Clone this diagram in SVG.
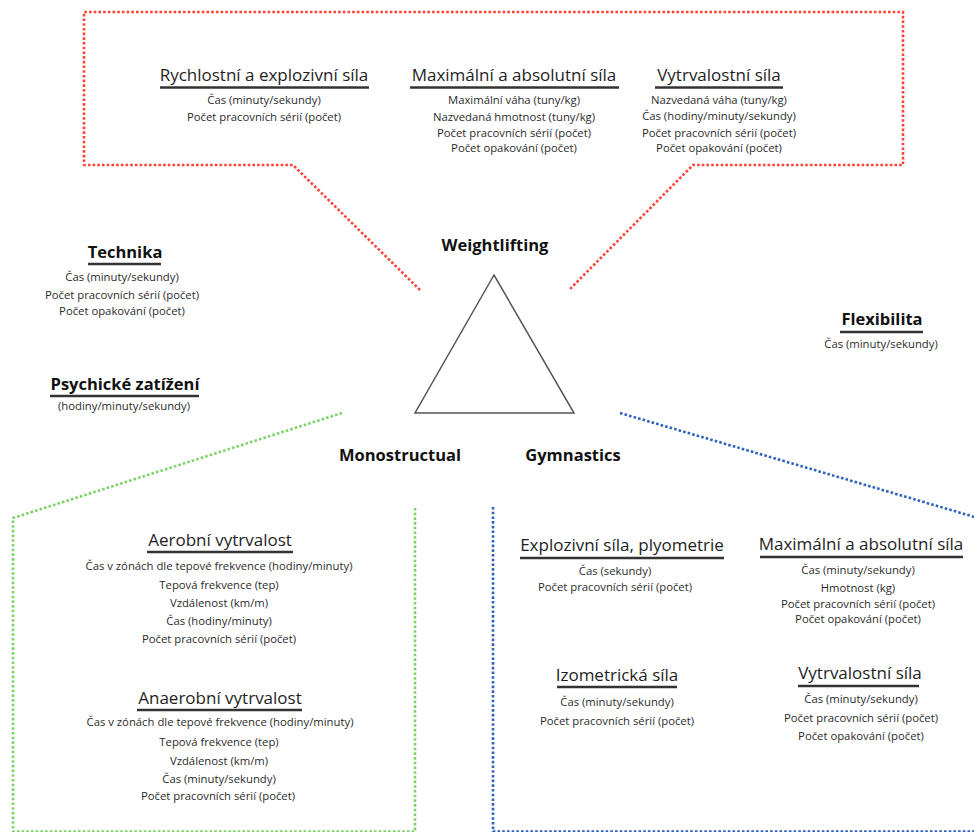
<svg xmlns="http://www.w3.org/2000/svg" width="974" height="832" viewBox="0 0 974 832">
<style>
text{font-family:"Open Sans","Noto Sans","Liberation Sans",sans-serif;text-anchor:middle}
.t{font-size:17px;fill:#1e1e1e}
.b{font-size:16.5px;font-weight:bold;fill:#111}
.i{font-size:11.3px;fill:#2b2b2b}
.u{stroke:#333;stroke-width:2.6}
.dot{fill:none;stroke-width:2.6;stroke-dasharray:2.6 2.1}
.red{stroke:#ff4338}
.green{stroke:#7cd468}
.blue{stroke:#2f63bf}
</style>
<rect width="974" height="832" fill="#fff"/>
<g id="connectors">
<path class="dot red" d="M420,290 L293,165 L84,165 L84,12 L903,12 L903,165 L693,165 L569,290"/>
<path class="dot green" d="M342,413 L13,518 L13,831.5 L415,831.5 L415,507"/>
<path class="dot blue" d="M620,413 L985,520"/>
<path class="dot blue" d="M493,507 L493,831.5 L980,831.5"/>
</g>
<g id="triangle">
<polygon points="494,275 415,413 574,413" fill="none" stroke="#555" stroke-width="1.5"/>
</g>
<g id="weightlifting"><text class="b" x="495" y="251">Weightlifting</text></g>
<g id="monostructual"><text class="b" x="400" y="461">Monostructual</text></g>
<g id="gymnastics"><text class="b" x="573" y="461">Gymnastics</text></g>
<g id="rychlostni">
<text class="t" x="264" y="81">Rychlostní a explozivní síla</text>
<line class="u" x1="160" y1="87.5" x2="369" y2="87.5"/>
<text class="i" x="264" y="104">Čas (minuty/sekundy)</text>
<text class="i" x="264" y="121">Počet pracovních sérií (počet)</text>
</g>
<g id="maximalni-w">
<text class="t" x="514" y="81">Maximální a absolutní síla</text>
<line class="u" x1="410" y1="87.5" x2="619" y2="87.5"/>
<text class="i" x="514" y="104">Maximální váha (tuny/kg)</text>
<text class="i" x="514" y="121">Nazvedaná hmotnost (tuny/kg)</text>
<text class="i" x="514" y="137">Počet pracovních sérií (počet)</text>
<text class="i" x="514" y="152">Počet opakování (počet)</text>
</g>
<g id="vytrvalostni-w">
<text class="t" x="719" y="81">Vytrvalostní síla</text>
<line class="u" x1="655" y1="87.5" x2="783" y2="87.5"/>
<text class="i" x="719" y="104">Nazvedaná váha (tuny/kg)</text>
<text class="i" x="719" y="120">Čas (hodiny/minuty/sekundy)</text>
<text class="i" x="719" y="137">Počet pracovních sérií (počet)</text>
<text class="i" x="719" y="152">Počet opakování (počet)</text>
</g>
<g id="technika">
<text class="b" x="125" y="258">Technika</text>
<line class="u" x1="88" y1="264" x2="161" y2="264"/>
<text class="i" x="122" y="281">Čas (minuty/sekundy)</text>
<text class="i" x="122" y="299">Počet pracovních sérií (počet)</text>
<text class="i" x="122" y="315">Počet opakování (počet)</text>
</g>
<g id="psychicke">
<text class="b" x="125" y="390">Psychické zatížení</text>
<line class="u" x1="50" y1="396" x2="199" y2="396"/>
<text class="i" x="124" y="410">(hodiny/minuty/sekundy)</text>
</g>
<g id="flexibilita">
<text class="b" x="882" y="325">Flexibilita</text>
<line class="u" x1="840" y1="332" x2="923" y2="332"/>
<text class="i" x="881" y="348">Čas (minuty/sekundy)</text>
</g>
<g id="aerobni">
<text class="t" x="220" y="546">Aerobní vytrvalost</text>
<line class="u" x1="147" y1="552" x2="293" y2="552"/>
<text class="i" x="219" y="570">Čas v zónách dle tepové frekvence (hodiny/minuty)</text>
<text class="i" x="219" y="589">Tepová frekvence (tep)</text>
<text class="i" x="219" y="607">Vzdálenost (km/m)</text>
<text class="i" x="219" y="625">Čas (hodiny/minuty)</text>
<text class="i" x="219" y="643">Počet pracovních sérií (počet)</text>
</g>
<g id="anaerobni">
<text class="t" x="220" y="704">Anaerobní vytrvalost</text>
<line class="u" x1="137" y1="710" x2="302" y2="710"/>
<text class="i" x="220" y="726">Čas v zónách dle tepové frekvence (hodiny/minuty)</text>
<text class="i" x="219" y="746">Tepová frekvence (tep)</text>
<text class="i" x="219" y="765">Vzdálenost (km/m)</text>
<text class="i" x="219" y="783">Čas (minuty/sekundy)</text>
<text class="i" x="218" y="800">Počet pracovních sérií (počet)</text>
</g>
<g id="explozivni">
<text class="t" x="622" y="551">Explozivní síla, plyometrie</text>
<line class="u" x1="520" y1="558" x2="724" y2="558"/>
<text class="i" x="615" y="575">Čas (sekundy)</text>
<text class="i" x="615" y="591">Počet pracovních sérií (počet)</text>
</g>
<g id="maximalni-g">
<text class="t" x="861" y="550">Maximální a absolutní síla</text>
<line class="u" x1="760" y1="557" x2="963" y2="557"/>
<text class="i" x="858" y="574">Čas (minuty/sekundy)</text>
<text class="i" x="858" y="592">Hmotnost (kg)</text>
<text class="i" x="858" y="608">Počet pracovních sérií (počet)</text>
<text class="i" x="858" y="623">Počet opakování (počet)</text>
</g>
<g id="izometricka">
<text class="t" x="617" y="681">Izometrická síla</text>
<line class="u" x1="557" y1="687" x2="677" y2="687"/>
<text class="i" x="617" y="706">Čas (minuty/sekundy)</text>
<text class="i" x="617" y="725">Počet pracovních sérií (počet)</text>
</g>
<g id="vytrvalostni-g">
<text class="t" x="860" y="679">Vytrvalostní síla</text>
<line class="u" x1="798" y1="686" x2="919" y2="686"/>
<text class="i" x="861" y="703">Čas (minuty/sekundy)</text>
<text class="i" x="861" y="722">Počet pracovních sérií (počet)</text>
<text class="i" x="861" y="740">Počet opakování (počet)</text>
</g>
</svg>
